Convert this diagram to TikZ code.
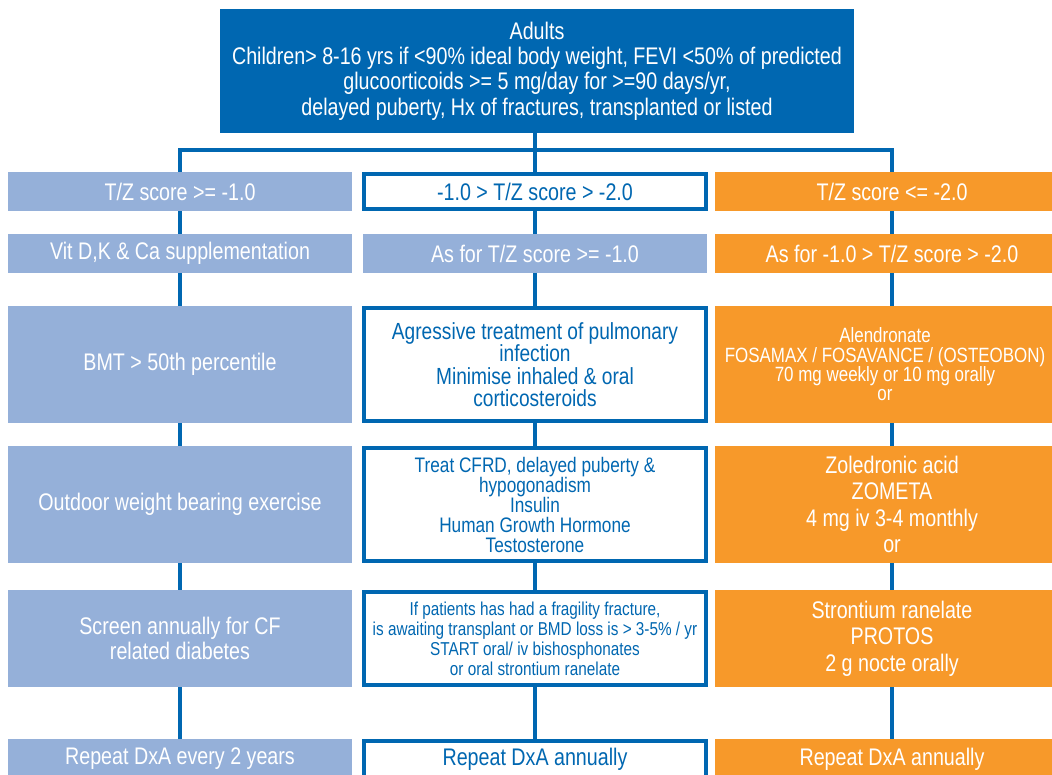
\documentclass[tikz,border=0pt]{standalone}
\usepackage{fontspec}
\setmainfont{Liberation Sans}[FakeStretch=0.82]
\usetikzlibrary{positioning}

\definecolor{cfblue}{RGB}{0,103,177}
\definecolor{cflight}{RGB}{149,176,217}
\definecolor{cforange}{RGB}{247,153,42}
\newcommand{\fsz}[2]{\fontsize{#1}{#2}\selectfont\lineskiplimit=-30pt\lineskip=0pt}
\newcommand{\lft}{\hspace*{-10.5pt}}

\begin{document}
\begin{tikzpicture}[x=0.75pt,y=-0.75pt,
	Edge/.style={-,cfblue,line width=3.5pt},
	TopNode/.style={rectangle,fill=cfblue,text=white,align=center,inner sep=0pt,minimum width=475.5pt,minimum height=93pt,font=\fsz{18}{19}},
	LightNode/.style={rectangle,fill=cflight,text=white,align=center,inner sep=0pt,minimum width=258pt,font=\fsz{18}{19}},
	FrameNode/.style={rectangle,fill=white,draw=cfblue,line width=3pt,text=cfblue,align=center,inner sep=0pt,minimum width=256.5pt,font=\fsz{18}{19}},
	OrangeNode/.style={rectangle,fill=cforange,text=white,align=center,inner sep=0pt,minimum width=265.5pt,font=\fsz{18}{19}},
]
	\useasboundingbox (0,0) rectangle (1052,774);
	\clip (0,0) rectangle (1052,774);

	\node[TopNode] (A) at (537,71) {Adults\\Children> 8-16 yrs if <90\% ideal body weight, FEVI <50\% of predicted\\glucoorticoids >= 5 mg/day for >=90 days/yr,\\delayed puberty, Hx of fractures, transplanted or listed};
	\coordinate (Bar) at (537,150);

	% row 1
	\node[LightNode,minimum height=29.25pt] (L1) at (180,191.5) {T/Z score >= -1.0};
	\node[FrameNode,minimum height=26.25pt] (M1) at (535,191.5) {-1.0 > T/Z score > -2.0};
	\node[OrangeNode,minimum height=29.25pt] (R1) at (892,191.5) {T/Z score <= -2.0};
	% row 2
	\node[LightNode,minimum height=29.25pt] (L2) at (180,253.5) {Vit D,K \& Ca supplementation};
	\node[LightNode,minimum height=29.25pt] (M2) at (535,253.5) {As for T/Z score >= -1.0};
	\node[OrangeNode,minimum height=29.25pt] (R2) at (892,253.5) {As for -1.0 > T/Z score > -2.0};
	% row 3
	\node[LightNode,minimum height=87.75pt] (L3) at (180,364.5) {BMT > 50th percentile};
	\node[FrameNode,minimum height=84.75pt,font=\fsz{17.5}{16.75}] (M3) at (535,364.5) {Agressive treatment of pulmonary\\infection\\Minimise inhaled \& oral\\corticosteroids};
	\node[OrangeNode,minimum height=87.75pt,font=\fsz{15.5}{14.5}] (R3) at (892,364.5) {\lft Alendronate\\\lft FOSAMAX / FOSAVANCE / (OSTEOBON)\\\lft 70 mg weekly or 10 mg orally\\\lft or};
	% row 4
	\node[LightNode,minimum height=87.75pt] (L4) at (180,504.5) {Outdoor weight bearing exercise};
	\node[FrameNode,minimum height=84.75pt,font=\fsz{15.75}{15}] (M4) at (535,504.5) {Treat CFRD, delayed puberty \&\\hypogonadism\\Insulin\\Human Growth Hormone\\Testosterone};
	\node[OrangeNode,minimum height=87.75pt,font=\fsz{18}{19.9}] (R4) at (892,504.5) {Zoledronic acid\\ZOMETA\\4 mg iv 3-4 monthly\\or};
	% row 5
	\node[LightNode,minimum height=72.75pt,font=\fsz{18}{18.75}] (L5) at (180,638.5) {Screen annually for CF\\related diabetes};
	\node[FrameNode,minimum height=69.75pt,font=\fsz{14}{15}] (M5) at (535,638.5) {If patients has had a fragility fracture,\\is awaiting transplant or BMD loss is > 3-5\% / yr\\START oral/ iv bishosphonates\\or oral strontium ranelate};
	\node[OrangeNode,minimum height=72.75pt,font=\fsz{18}{19.9}] (R5) at (892,638.5) {Strontium ranelate\\PROTOS\\2 g nocte orally};
	% row 6
	\node[LightNode,minimum height=30pt] (L6) at (180,759) {Repeat DxA every 2 years};
	\node[FrameNode,minimum height=27pt] (M6) at (535,759) {Repeat DxA annually};
	\node[OrangeNode,minimum height=30pt] (R6) at (892,759) {Repeat DxA annually};

	\draw[Edge] (A.south -| M1.north) -- (M1.north);
	\draw[Edge] (L1.north) -- (L1.north |- Bar) -- (R1.north |- Bar) -- (R1.north);

	\path[Edge]
	(L1) edge (L2) (L2) edge (L3) (L3) edge (L4) (L4) edge (L5) (L5) edge (L6)
	(M1) edge (M2) (M2) edge (M3) (M3) edge (M4) (M4) edge (M5) (M5) edge (M6)
	(R1) edge (R2) (R2) edge (R3) (R3) edge (R4) (R4) edge (R5) (R5) edge (R6)
	;
\end{tikzpicture}
\end{document}
